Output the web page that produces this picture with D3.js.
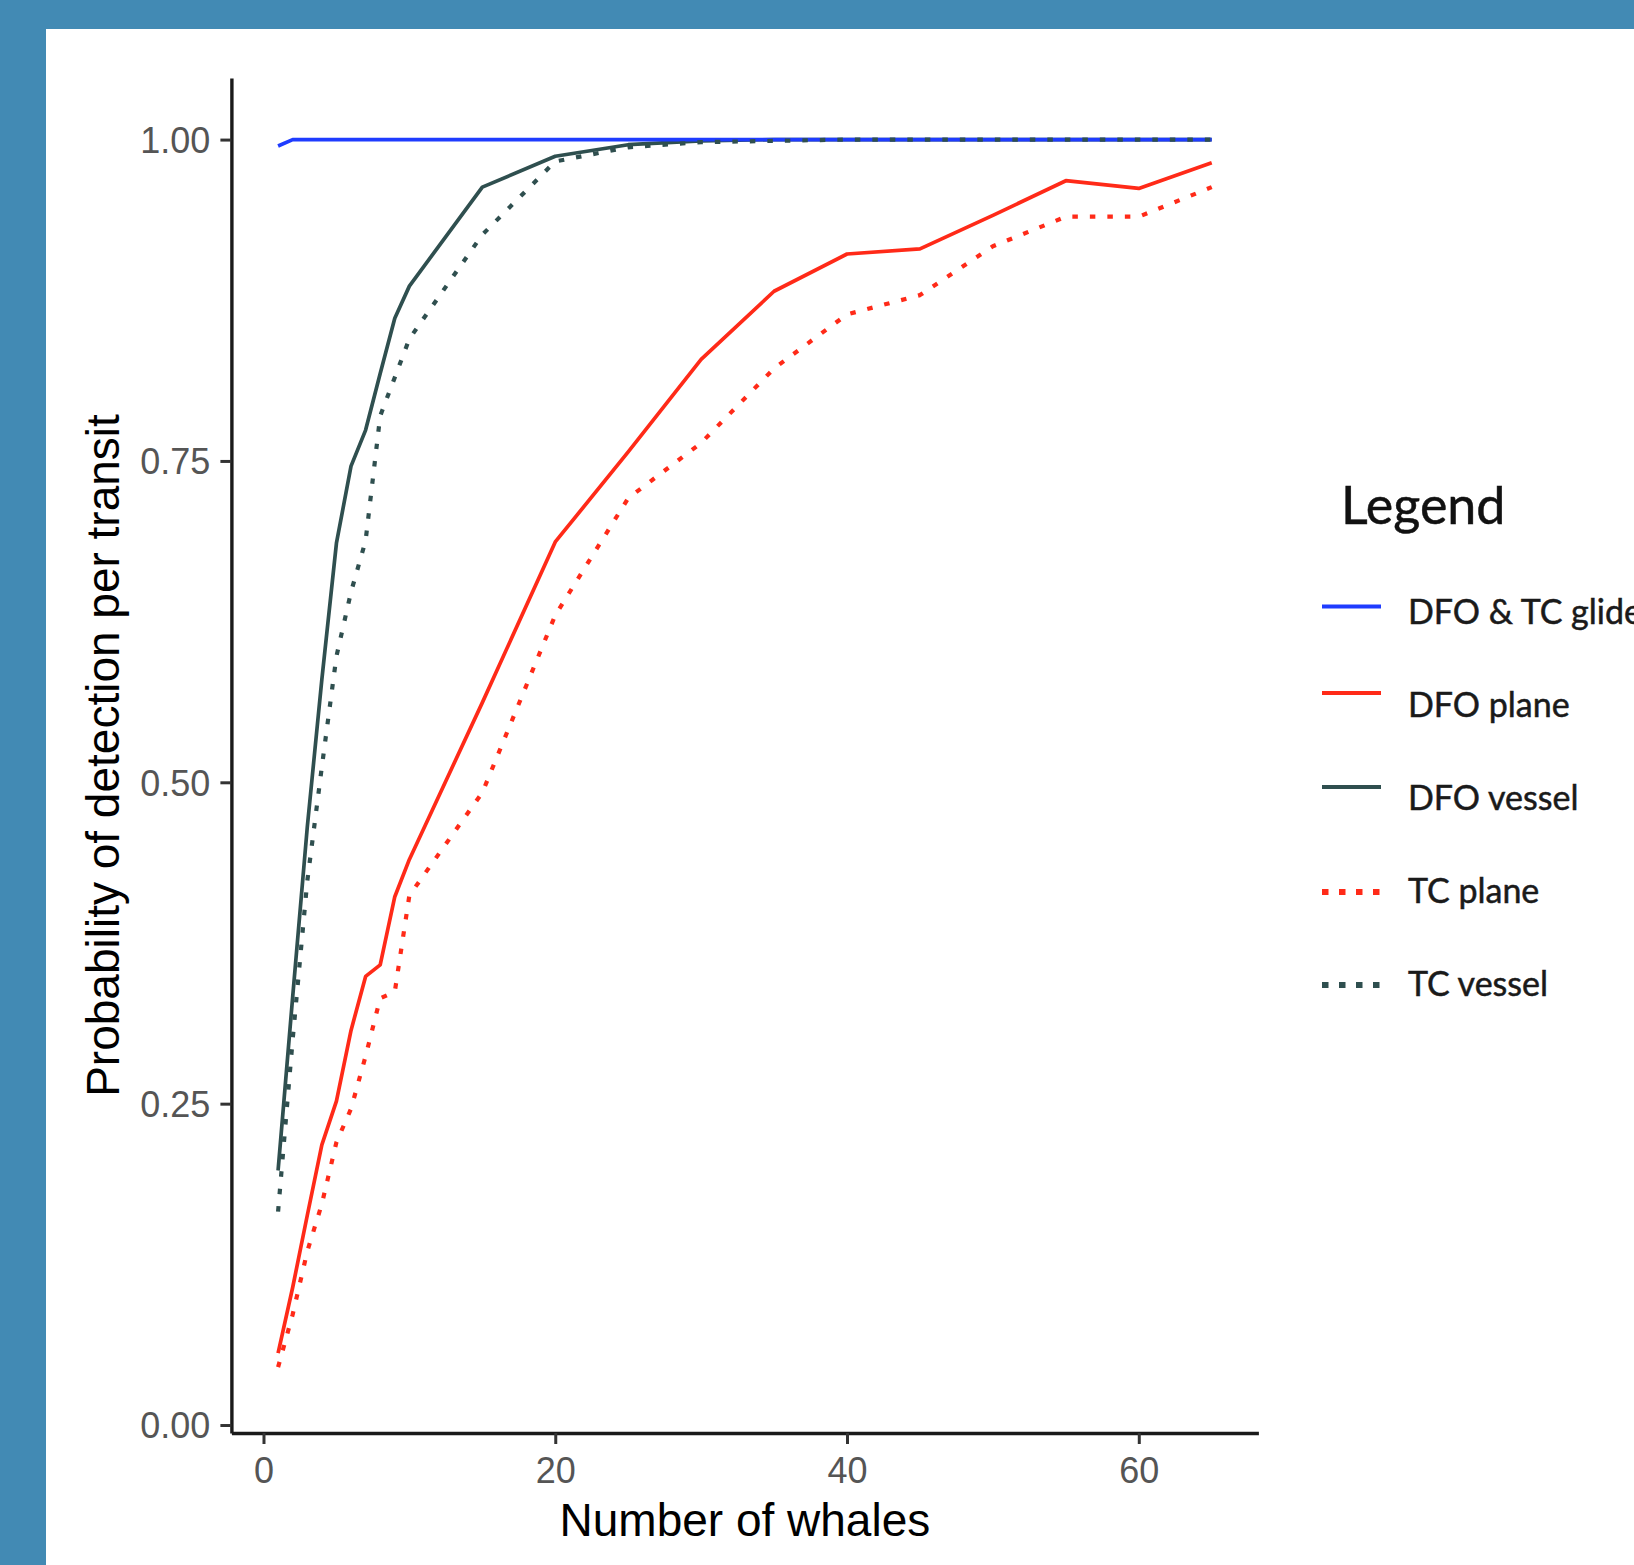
<!DOCTYPE html>
<html>
<head>
<meta charset="utf-8">
<script src="https://cdn.jsdelivr.net/npm/d3@7"></script>
<style>
  html, body { margin: 0; padding: 0; background: #428ab4; overflow: hidden; }
  svg { display: block; }
</style>
</head>
<body>
<svg id="chart" width="1634" height="1565"></svg>
<script>
// ---- data ----
const whales = [1, 2, 3, 4, 5, 6, 7, 8, 9, 10, 15, 20, 25, 30, 35, 40, 45, 50, 55, 60, 65];
const dfoTcGlider = [0.995, 1, 1, 1, 1, 1, 1, 1, 1, 1, 1, 1, 1, 1, 1, 1, 1, 1, 1, 1, 1];
const dfoPlane = [0.056, 0.107, 0.163, 0.218, 0.252, 0.307, 0.349, 0.358, 0.411, 0.440, 0.562, 0.687, 0.757, 0.829, 0.882, 0.911, 0.915, 0.941, 0.968, 0.962, 0.982];
const dfoVessel = [0.198, 0.333, 0.465, 0.580, 0.686, 0.746, 0.774, 0.818, 0.861, 0.886, 0.963, 0.987, 0.996, 0.999, 1, 1, 1, 1, 1, 1, 1];
const tcPlane = [0.045, 0.086, 0.135, 0.172, 0.220, 0.246, 0.287, 0.332, 0.337, 0.412, 0.492, 0.630, 0.721, 0.764, 0.822, 0.864, 0.879, 0.917, 0.940, 0.940, 0.963];
const tcVessel = [0.166, 0.300, 0.423, 0.512, 0.598, 0.648, 0.688, 0.785, 0.815, 0.845, 0.926, 0.983, 0.994, 0.998, 0.999, 1, 1, 1, 1, 1, 1];

const seriesNames = ["DFO & TC glider", "DFO plane", "DFO vessel", "TC plane", "TC vessel"];
const seriesValues = [dfoTcGlider, dfoPlane, dfoVessel, tcPlane, tcVessel];
const seriesColors = ["#1f3cff", "#ff2a18", "#2f4f4f", "#ff2a18", "#2f4f4f"];
const seriesDotted = [false, false, false, true, true];

const xTicks = [0, 20, 40, 60];
const yTicks = [0, 0.25, 0.5, 0.75, 1.0];
const xTitle = "Number of whales";
const yTitle = "Probability of detection per transit";
const legendTitle = "Legend";

// ---- drawing ----
const svg = d3.select("#chart");

svg.append("rect")
  .attr("x", 46).attr("y", 29)
  .attr("width", 1634 - 46).attr("height", 1565 - 29)
  .attr("fill", "#ffffff");

const x = d3.scaleLinear().domain([-2.2, 68.2]).range([231.4, 1258.4]);
const y = d3.scaleLinear().domain([-0.0062, 1.0479]).range([1433, 78]);

const line = d3.line()
  .x(d => x(d[0]))
  .y(d => y(d[1]));

// draw order: planes, DFO vessel, glider, TC vessel
const order = [1, 3, 2, 0, 4];
const g = svg.append("g");
order.forEach(i => {
  const pts = whales.map((w, k) => [w, seriesValues[i][k]]);
  g.append("path")
    .datum(pts)
    .attr("d", line)
    .attr("fill", "none")
    .attr("stroke", seriesColors[i])
    .attr("stroke-width", seriesDotted[i] ? 4.2 : 3.7)
    .attr("stroke-linejoin", "round")
    .attr("stroke-dasharray", seriesDotted[i] ? "5.5 12" : null);
});

// axes
const fontTick = "'Liberation Sans', Arial, Helvetica, sans-serif";
const yAxis = svg.append("g")
  .attr("transform", `translate(${x(-2.2)},0)`)
  .call(d3.axisLeft(y).tickValues(yTicks).tickFormat(d3.format(".2f"))
        .tickSize(11).tickSizeOuter(0).tickPadding(10));
const xAxis = svg.append("g")
  .attr("transform", `translate(0,${y(-0.0062)})`)
  .call(d3.axisBottom(x).tickValues(xTicks).tickFormat(d3.format("d"))
        .tickSize(11).tickSizeOuter(0).tickPadding(13));

[yAxis, xAxis].forEach(ax => {
  ax.select(".domain").attr("stroke", "#1a1a1a").attr("stroke-width", 3.4);
  ax.selectAll(".tick line").attr("stroke", "#333333").attr("stroke-width", 3);
  ax.selectAll(".tick text")
    .attr("fill", "#555555")
    .style("font-family", fontTick)
    .style("font-size", "36px");
});
yAxis.selectAll(".tick text").attr("dy", "0.36em");

// axis titles
svg.append("text")
  .attr("x", (x(-2.2) + x(68.2)) / 2)
  .attr("y", 1536)
  .attr("text-anchor", "middle")
  .style("font-family", fontTick)
  .style("font-size", "46px")
  .attr("fill", "#000")
  .text(xTitle);

svg.append("text")
  .attr("transform", `translate(119,${(y(-0.0062) + y(1.0479)) / 2}) rotate(-90)`)
  .attr("text-anchor", "middle")
  .style("font-family", fontTick)
  .style("font-size", "46px")
  .attr("fill", "#000")
  .text(yTitle);

// legend
const fontLegend = "Lato, 'Open Sans', sans-serif";
svg.append("text")
  .attr("x", 1341).attr("y", 524)
  .style("font-family", fontLegend)
  .style("font-size", "52px")
  .attr("fill", "#111")
  .attr("stroke", "#111").attr("stroke-width", 0.5)
  .text(legendTitle);

const legendKeyY = [606.5, 693, 787, 892, 985];
const legendTextY = [624, 717, 810, 903, 996];
const lg = svg.append("g");
seriesNames.forEach((name, i) => {
  const ky = legendKeyY[i];
  lg.append("line")
    .attr("x1", 1322).attr("x2", 1381)
    .attr("y1", ky).attr("y2", ky)
    .attr("stroke", seriesColors[i])
    .attr("stroke-width", seriesDotted[i] ? 6 : 4)
    .attr("stroke-dasharray", seriesDotted[i] ? "6.5 10.5" : null);
  lg.append("text")
    .attr("x", 1408).attr("y", legendTextY[i])
    .style("font-family", fontLegend)
    .style("font-size", "34px")
    .attr("fill", "#1a1a1a")
    .attr("stroke", "#1a1a1a").attr("stroke-width", 0.5)
    .text(name);
});
</script>
</body>
</html>
